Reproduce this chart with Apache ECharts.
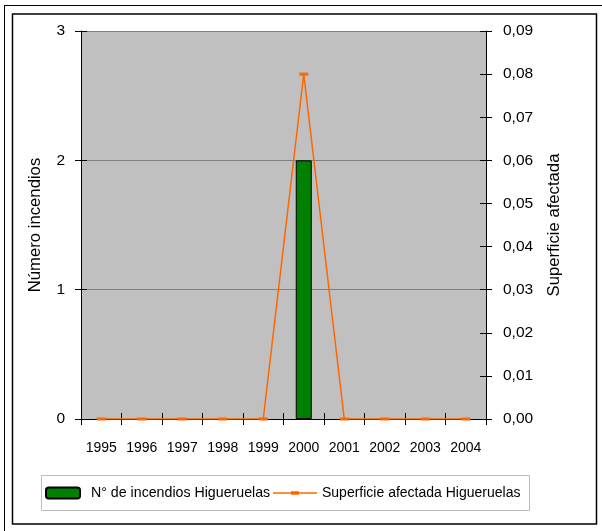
<!DOCTYPE html>
<html><head><meta charset="utf-8">
<script src="https://cdn.jsdelivr.net/npm/echarts@6/dist/echarts.min.js"></script>
<style>html,body{margin:0;padding:0;background:#fff}#c{width:602px;height:531px}</style>
</head><body><div id="c"></div>
<script>
const years = ['1995','1996','1997','1998','1999','2000','2001','2002','2003','2004'];
const incendios = [0,0,0,0,0,2,0,0,0,0];
const superficie = [0,0,0,0,0,0.08,0,0,0,0];
const barName = 'N° de incendios Higueruelas';
const lineName = 'Superficie afectada Higueruelas';

const F = "'Liberation Sans',Arial,sans-serif";
const chart = echarts.init(document.getElementById('c'), null, {renderer:'canvas'});
const tickCross = (inside) => ({show:true, inside:inside, length:6, lineStyle:{color:'#000', width:1}});
chart.setOption({
  animation:false,
  backgroundColor:'#fff',
  textStyle:{fontFamily:F},
  grid:{left:81, right:116, top:31, bottom:112, show:true, backgroundColor:'#c0c0c0', borderWidth:0},
  graphic:[
    {type:'line', shape:{x1:4,y1:5.5,x2:602,y2:5.5}, style:{stroke:'#000',lineWidth:1}},
    {type:'line', shape:{x1:4.5,y1:5,x2:4.5,y2:531}, style:{stroke:'#000',lineWidth:1}},
    {type:'rect', shape:{x:12.5,y:14,width:584,height:510}, style:{fill:'none',stroke:'#000',lineWidth:1.5}},
    {type:'rect', shape:{x:41.5,y:475.5,width:488,height:35}, style:{fill:'none',stroke:'#bdbdbd',lineWidth:1}}
  ],
  legend:[
    {data:[barName], left:45, top:486, padding:0, itemWidth:34, itemHeight:11, itemGap:0,
     textStyle:{fontFamily:F, fontSize:14.2, color:'#000', padding:[0,0,0,6]}},
    {data:[{name:lineName, icon:'path://M0,5 L44,5 L44,6.5 L0,6.5 Z M18,4 L26,4 L26,7.5 L18,7.5 Z'}], left:273, top:486, padding:0, itemWidth:44, itemHeight:11,
     textStyle:{fontFamily:F, fontSize:14, color:'#000', padding:[0,0,0,0]}}
  ],
  xAxis:[
    {type:'category', data:years, boundaryGap:true, position:'bottom',
     axisLine:{show:true, lineStyle:{color:'#000', width:1}},
     axisTick:{show:true, inside:false, length:6, alignWithLabel:false, lineStyle:{color:'#000'}},
     axisLabel:{color:'#000', fontFamily:F, fontSize:14, margin:22, interval:0},
     splitLine:{show:false}},
    {type:'category', data:years, boundaryGap:true, position:'bottom',
     axisLine:{show:false}, axisTick:{show:true, inside:true, length:6, lineStyle:{color:'#000'}},
     axisLabel:{show:false}, splitLine:{show:false}}
  ],
  yAxis:[
    {type:'value', min:0, max:3, interval:1, position:'left',
     name:'Número incendios', nameLocation:'middle', nameGap:37, nameRotate:90,
     nameTextStyle:{color:'#000', fontFamily:F, fontSize:16.7},
     axisLine:{show:true, lineStyle:{color:'#000'}},
     axisTick:tickCross(false),
     axisLabel:{color:'#000', fontFamily:F, fontSize:15.5, margin:16},
     splitLine:{show:true, lineStyle:{color:'#808080', width:1}}},
    {type:'value', min:0, max:0.09, interval:0.01, position:'right',
     name:'Superficie afectada', nameLocation:'middle', nameGap:60, nameRotate:90,
     nameTextStyle:{color:'#000', fontFamily:F, fontSize:16.7},
     axisLine:{show:true, lineStyle:{color:'#000'}},
     axisTick:tickCross(false),
     axisLabel:{color:'#000', fontFamily:F, fontSize:15.5, margin:17,
       formatter:v=>v.toFixed(2).replace('.',',')},
     splitLine:{show:false}},
    {type:'value', min:0, max:3, interval:1, position:'left',
     axisLine:{show:false}, axisTick:tickCross(true), axisLabel:{show:false}, splitLine:{show:false}},
    {type:'value', min:0, max:0.09, interval:0.01, position:'right',
     axisLine:{show:false}, axisTick:tickCross(true), axisLabel:{show:false}, splitLine:{show:false}}
  ],
  series:[
    {name:barName, type:'bar', xAxisIndex:0, yAxisIndex:0, barWidth:16,
     data:incendios.map(v => ({value:v, itemStyle: v === 0 ? {borderWidth:0} : {}})),
     itemStyle:{color:'#008000', borderColor:'#000', borderWidth:1}},
    {name:lineName, type:'line', data:superficie, xAxisIndex:0, yAxisIndex:1,
     symbol:'rect', symbolSize:[9,3], showAllSymbol:true,
     lineStyle:{color:'#ff6600', width:1.5}, itemStyle:{color:'#ff6600'}, z:5}
  ]
});
</script></body></html>
